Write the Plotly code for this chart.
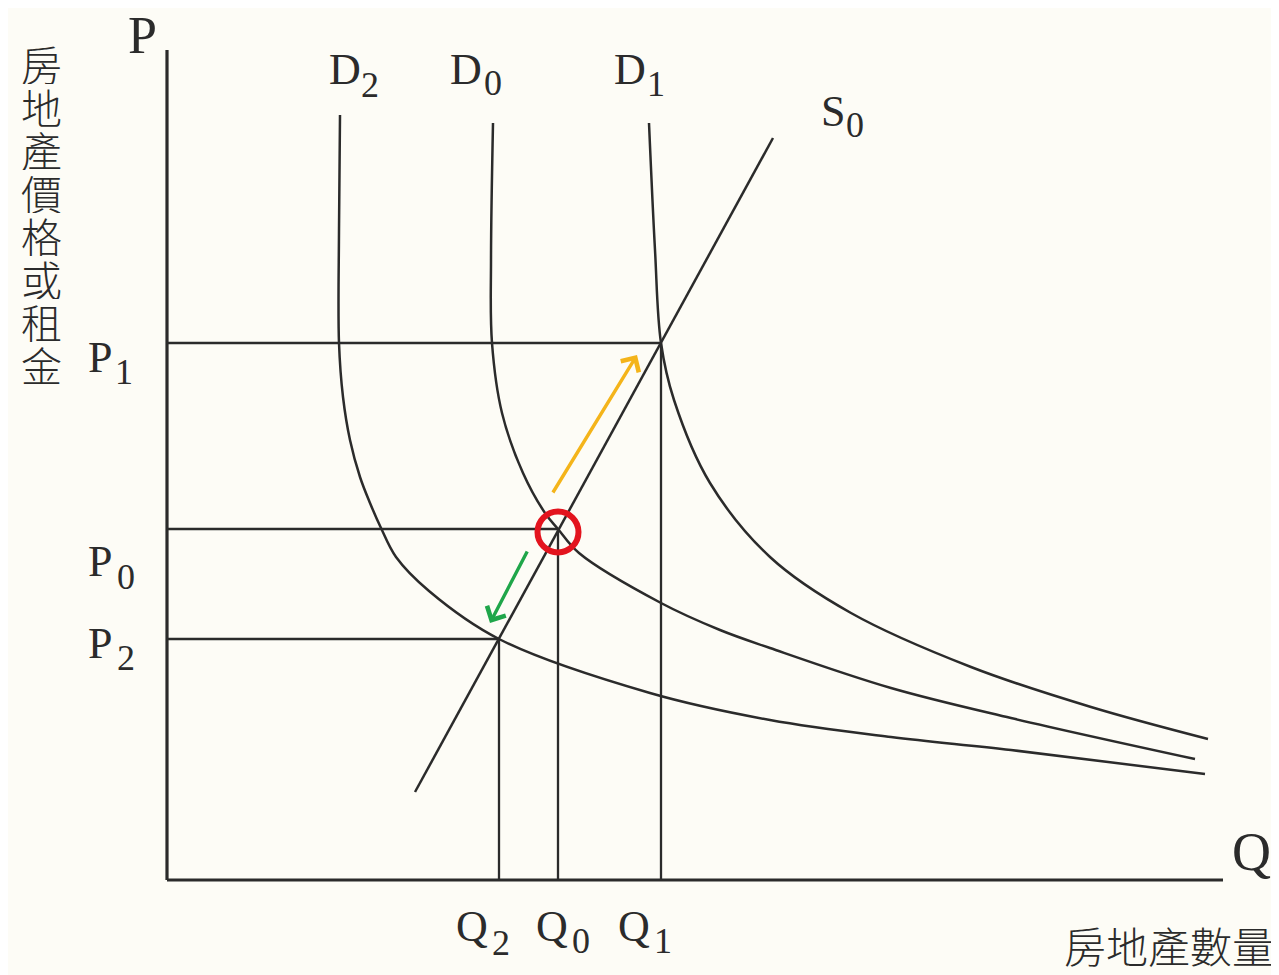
import plotly.graph_objects as go

# quantities / prices (origin at the axis corner)
q_eq = {'Q2': 332, 'Q0': 391, 'Q1': 494}
p_eq = {'P1': 537, 'P0': 351, 'P2': 241}

# supply S0
s0_q = [248, 606]
s0_p = [88, 742]

# demand curves
d2_q = [173, 172, 172, 176, 183, 193, 203, 214, 229, 262, 332, 483, 603, 724, 844, 1038]
d2_p = [765, 650, 537, 483, 440, 403, 377, 352, 323, 289, 241, 187, 160, 143, 130, 106]
d0_q = [326, 324, 325, 335, 356, 378, 391, 412, 494, 553, 603, 724, 844, 1028]
d0_p = [757, 620, 537, 467, 407, 367, 351, 327, 277, 250, 232, 192, 162, 121]
d1_q = [482, 488, 494, 507, 543, 603, 684, 804, 924, 1041]
d1_p = [757, 630, 537, 480, 397, 323, 267, 213, 173, 141]

# arrows: (start, tip)
up_arrow = [(385, 386), (470, 525)]
down_arrow = [(361, 330), (323, 257)]

y_title = '房地產價格或租金'
x_title = '房地產數量'

ink = '#2b2b2b'
paper = '#fdfcf6'
serif = 'Liberation Serif, Times New Roman, serif'
cjk = 'Noto Sans CJK TC, Noto Sans CJK SC, sans-serif'

fig = go.Figure()

def line(x, y, w=2.5, shape='linear'):
    fig.add_trace(go.Scatter(x=x, y=y, mode='lines', line=dict(color=ink, width=w, shape=shape, smoothing=1.0),
                             hoverinfo='skip', showlegend=False))

# axes
line([0, 0], [0, 830], w=3.2)
line([0, 1056], [0, 0], w=3.2)

# guide lines
for p, q in [('P1', 'Q1'), ('P0', 'Q0'), ('P2', 'Q2')]:
    line([0, q_eq[q]], [p_eq[p], p_eq[p]], w=2.3)
    line([q_eq[q], q_eq[q]], [0, p_eq[p]], w=2.3)

# curves
line(d2_q, d2_p, shape='spline')
line(d0_q, d0_p, shape='spline')
line(d1_q, d1_p, shape='spline')
line(s0_q, s0_p)

# red circle at the original equilibrium
fig.add_trace(go.Scatter(x=[q_eq['Q0']], y=[p_eq['P0'] - 3], mode='markers',
                         marker=dict(symbol='circle-open', size=41, color='#e3141e', line=dict(width=6, color='#e3141e')),
                         hoverinfo='skip', showlegend=False))

for (start, tip), col in [(up_arrow, '#f4b41a'), (down_arrow, '#1fa64a')]:
    fig.add_annotation(x=tip[0], y=tip[1], ax=start[0], ay=start[1], xref='x', yref='y', axref='x', ayref='y',
                       text='', showarrow=True, arrowhead=4, arrowsize=1.2, arrowwidth=3.4, arrowcolor=col)

def label(main, sub, x, y, dx, dy, size=44, subsize=36):
    fig.add_annotation(x=x, y=y, text=main, showarrow=False, xref='x', yref='y',
                       font=dict(family=serif, size=size, color=ink))
    fig.add_annotation(x=x, y=y, text=sub, showarrow=False, xref='x', yref='y', xshift=dx, yshift=dy,
                       font=dict(family=serif, size=subsize, color=ink))

label('D', '2', d2_q[0] + 5, d2_p[0] + 46, 25, -16)
label('D', '0', d0_q[0] - 27, d0_p[0] + 54, 27, -14)
label('D', '1', d1_q[0] - 19, d1_p[0] + 54, 26, -15)
label('S', '0', s0_q[1] + 60, s0_p[1] + 27, 22, -14)
label('P', '1', -67, p_eq['P1'] - 14, 24, -15)
label('P', '0', -67, p_eq['P0'] - 32, 26, -16)
label('P', '2', -67, p_eq['P2'] - 4, 26, -15)
label('Q', '2', q_eq['Q2'] - 27, -46, 29, -17)
label('Q', '0', q_eq['Q0'] - 6, -46, 29, -15)
label('Q', '1', q_eq['Q1'] - 27, -46, 29, -15)

fig.add_annotation(x=-25, y=845, text='P', showarrow=False, font=dict(family=serif, size=52, color=ink))
fig.add_annotation(x=1084, y=28, text='Q', showarrow=False, font=dict(family=serif, size=54, color=ink))

# vertical title, one character per step
for i, ch in enumerate(y_title):
    fig.add_annotation(x=-126, y=817 - i * 43, text=ch, showarrow=False, height=42,
                       font=dict(family=cjk, size=41, color=ink, weight=300))
fig.add_annotation(x=1002, y=-64, text=x_title, showarrow=False, height=46,
                   font=dict(family=cjk, size=42, color=ink, weight=300))

# the page body adds an 8px margin, so the figure is 8px smaller and the ranges start 8px in
fig.update_layout(
    width=1271, height=967,
    margin=dict(l=0, r=0, t=0, b=0),
    paper_bgcolor=paper, plot_bgcolor=paper,
    xaxis=dict(range=[-159, 1112], visible=False, fixedrange=True),
    yaxis=dict(range=[-95, 872], visible=False, fixedrange=True),
)

fig.write_html('out.html')
